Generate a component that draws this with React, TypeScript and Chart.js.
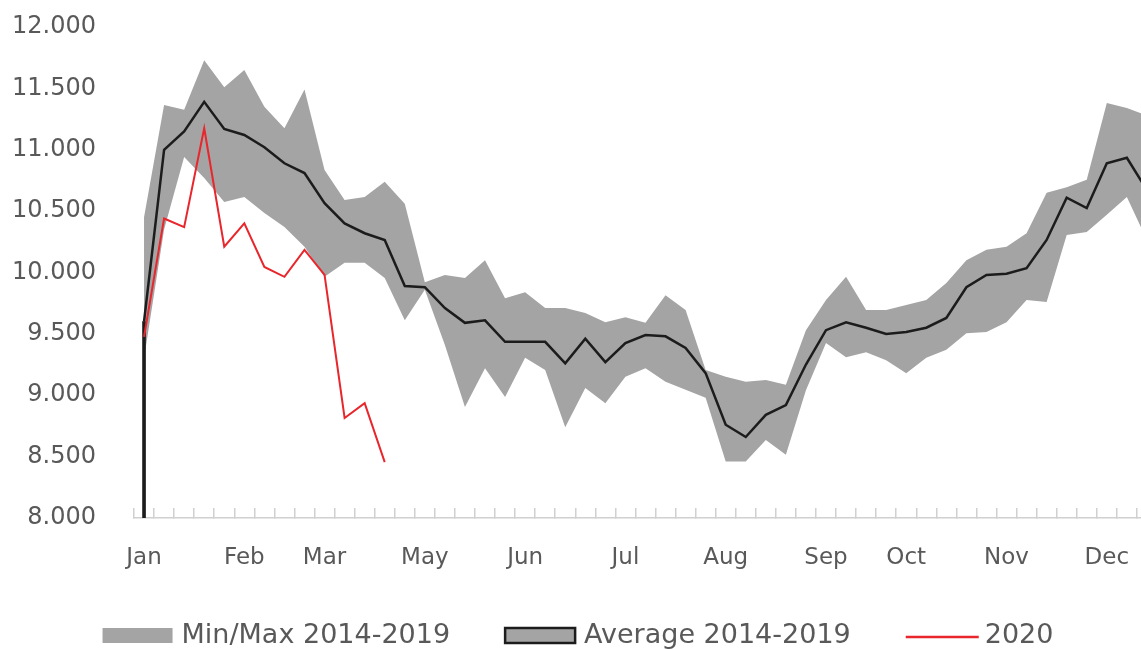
import React, { useEffect, useRef } from "react";
import { Chart, registerables } from "chart.js";

Chart.register(...registerables);

// ---- Data ----
const weekCount = 52;
const monthNames = ["Jan", "Feb", "Mar", "May", "Jun", "Jul", "Aug", "Sep", "Oct", "Nov", "Dec"];
const monthWeekIndex = [0, 5, 9, 14, 19, 24, 29, 34, 38, 43, 48];

const maxValues = [
  10450, 11365, 11325, 11730, 11510, 11650, 11350, 11175, 11490, 10835,
  10590, 10615, 10740, 10560, 9920, 9980, 9955, 10100, 9790, 9840,
  9710, 9710, 9670, 9595, 9635, 9590, 9815, 9695, 9205, 9150,
  9110, 9125, 9085, 9530, 9775, 9965, 9695, 9695, 9735, 9775,
  9915, 10100, 10185, 10210, 10320, 10650, 10695, 10755, 11380, 11340,
  11280, 11200,
];

const minValues = [
  9300, 10350, 10940, 10770, 10575, 10615, 10485, 10370, 10210, 9965,
  10080, 10080, 9955, 9610, 9860, 9410, 8905, 9220, 8985, 9305,
  9205, 8740, 9060, 8935, 9150, 9220, 9110, 9045, 8980, 8460,
  8460, 8635, 8515, 9040, 9425, 9310, 9350, 9285, 9180, 9305,
  9370, 9505, 9515, 9595, 9775, 9760, 10305, 10330, 10470, 10615,
  10265, 10300,
];

const avgValues = [
  9600, 11000, 11150, 11390, 11170, 11120, 11020, 10890, 10810, 10565,
  10400, 10320, 10265, 9890, 9880, 9710, 9590, 9610, 9435, 9435,
  9435, 9260, 9460, 9270, 9425, 9490, 9480, 9385, 9180, 8760,
  8660, 8840, 8920, 9250, 9530, 9595, 9550, 9500, 9515, 9550,
  9630, 9880, 9980, 9990, 10035, 10265, 10610, 10525, 10890, 10935,
  10670, 10550,
];

const values2020 = [9475, 10440, 10370, 11175, 10210, 10400, 10045, 9965, 10185, 9980, 8815, 8935, 8455];

const yMin = 8000;
const yMax = 12000;
const yStep = 500;

const seriesLabels = ["Min/Max 2014-2019", "Average 2014-2019", "2020"];

// ---- Styles ----
const TEXT_COLOR = "#595959";
const BAND_COLOR = "#a4a4a4";
const AVG_COLOR = "#1c1c1c";
const RED_COLOR = "#e8262c";
const AXIS_COLOR = "#d0d0d0";

function formatThousands(v: number): string {
  const s = Math.round(v).toString();
  return s.replace(/\B(?=(\d{3})+(?!\d))/g, ".");
}

const weekLabels: string[] = Array.from({ length: weekCount }, (_, i) => {
  const k = monthWeekIndex.indexOf(i);
  return k >= 0 ? monthNames[k] : "";
});

const bottomLegendPlugin = {
  id: "bottomLegend",
  afterDraw(chart: any, _args: any, opts: any) {
    const ctx = chart.ctx as CanvasRenderingContext2D;
    const items = opts.items as { text: string; kind: string; color: string; border?: string }[];
    const boxW = 70;
    const boxH = 15;
    const textGap = 9;
    const itemGap = 55;
    const centerX = 578;
    const baseY = 643;
    ctx.save();
    ctx.font = "27px 'DejaVu Sans'";
    const widths = items.map((it) => ctx.measureText(it.text).width);
    const total = widths.reduce((a, w) => a + boxW + textGap + w, 0) + itemGap * (items.length - 1);
    let x = centerX - total / 2;
    items.forEach((it, i) => {
      if (it.kind === "line") {
        ctx.strokeStyle = it.color;
        ctx.lineWidth = 2.5;
        ctx.beginPath();
        ctx.moveTo(x, 637);
        ctx.lineTo(x + boxW + 3, 637);
        ctx.stroke();
      } else {
        ctx.fillStyle = it.color;
        ctx.fillRect(x, 628, boxW, boxH);
        if (it.border) {
          ctx.strokeStyle = it.border;
          ctx.lineWidth = 2.5;
          ctx.strokeRect(x, 628, boxW, boxH);
        }
      }
      ctx.fillStyle = TEXT_COLOR;
      ctx.textBaseline = "alphabetic";
      ctx.textAlign = "left";
      ctx.fillText(it.text, x + boxW + textGap, baseY);
      x += boxW + textGap + widths[i] + itemGap;
    });
    ctx.restore();
  },
};

export default function App() {
  const canvasRef = useRef<HTMLCanvasElement>(null);

  useEffect(() => {
    if (!canvasRef.current) return;
    const edgeBar = weekLabels.map((_, i) => (i === 0 ? [yMin, avgValues[0]] : null));
    const chart = new Chart(canvasRef.current, {
      type: "line",
      data: {
        labels: weekLabels,
        datasets: [
          {
            label: seriesLabels[0],
            data: maxValues,
            fill: { target: 1 },
            backgroundColor: BAND_COLOR,
            borderWidth: 0,
            borderColor: "rgba(0,0,0,0)",
            pointRadius: 0,
            tension: 0,
            order: 4,
          } as any,
          {
            label: "Min",
            data: minValues,
            fill: false,
            borderWidth: 0,
            borderColor: "rgba(0,0,0,0)",
            pointRadius: 0,
            tension: 0,
            order: 5,
          },
          {
            label: seriesLabels[1],
            data: avgValues,
            fill: false,
            borderColor: AVG_COLOR,
            borderWidth: 2.5,
            pointRadius: 0,
            tension: 0,
            order: 1,
          },
          {
            label: seriesLabels[2],
            data: values2020,
            fill: false,
            borderColor: RED_COLOR,
            borderWidth: 2,
            pointRadius: 0,
            tension: 0,
            order: 0,
          },
          {
            type: "bar",
            label: "AverageEdge",
            data: edgeBar as any,
            backgroundColor: AVG_COLOR,
            barThickness: 3,
            order: 2,
          } as any,
        ],
      },
      options: {
        animation: false,
        responsive: false,
        maintainAspectRatio: false,
        layout: { padding: { left: 12, right: 3, top: 27, bottom: 77 } },
        plugins: {
          legend: { display: false },
          tooltip: { enabled: false },
          bottomLegend: {
            items: [
              { text: seriesLabels[0], kind: "box", color: BAND_COLOR },
              { text: seriesLabels[1], kind: "box", color: BAND_COLOR, border: AVG_COLOR },
              { text: seriesLabels[2], kind: "line", color: RED_COLOR },
            ],
          },
        } as any,
        scales: {
          x: {
            type: "category",
            offset: true,
            grid: {
              display: true,
              offset: true,
              drawOnChartArea: false,
              drawTicks: true,
              tickLength: -10,
              color: AXIS_COLOR,
              lineWidth: 1.5,
            },
            border: { display: true, color: AXIS_COLOR, width: 1.5 },
            ticks: {
              autoSkip: false,
              maxRotation: 0,
              minRotation: 0,
              padding: 36,
              color: TEXT_COLOR,
              font: { family: "'DejaVu Sans'", size: 23 },
            },
            afterFit: (scale: any) => {
              scale.height = 54;
              scale.paddingLeft = 0;
              scale.paddingRight = 0;
            },
          },
          y: {
            min: yMin,
            max: yMax,
            grid: { display: false, drawTicks: false },
            border: { display: false },
            ticks: {
              stepSize: yStep,
              padding: 38,
              color: TEXT_COLOR,
              font: { family: "'DejaVu Sans'", size: 24 },
              callback: (v: any) => formatThousands(Number(v)),
            },
            afterFit: (scale: any) => {
              scale.width = 122;
              scale.paddingTop = 0;
              scale.paddingBottom = 0;
            },
          },
        },
      },
      plugins: [bottomLegendPlugin],
    } as any);
    return () => chart.destroy();
  }, []);

  return (
    <div
      style={{
        position: "fixed",
        left: 0,
        top: 0,
        width: 1141,
        height: 649,
        overflow: "hidden",
        background: "#ffffff",
      }}
    >
      <canvas ref={canvasRef} width={1180} height={649} style={{ display: "block", width: 1180, height: 649 }} />
    </div>
  );
}
